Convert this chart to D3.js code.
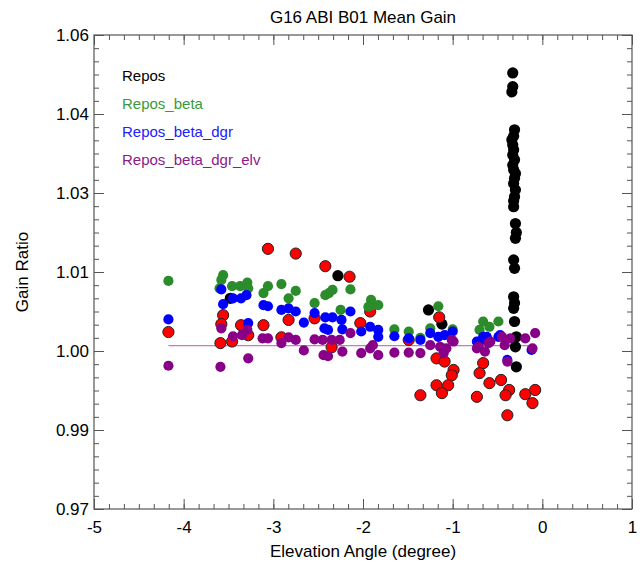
<!DOCTYPE html>
<html>
<head>
<meta charset="utf-8">
<script src="https://cdn.jsdelivr.net/npm/d3@7"></script>
<style>
  body { margin: 0; background: #fff; }
  svg { display: block; }
  text { font-family: "Liberation Sans", Arial, Helvetica, sans-serif; }
</style>
</head>
<body>
<svg id="chart" width="644" height="566"></svg>
<script>
// ---------------- DATA ----------------
const titleText = "G16 ABI B01 Mean Gain";
const xLabel = "Elevation Angle (degree)";
const yLabel = "Gain Ratio";

const xTicks = [-5, -4, -3, -2, -1, 0, 1];
const xTickLabels = ["-5", "-4", "-3", "-2", "-1", "0", "1"];
const yTicks = [0.97, 0.985, 1.0, 1.015, 1.03, 1.045, 1.06];
const yTickLabels = ["0.97", "0.99", "1.00", "1.01", "1.03", "1.04", "1.06"];

const legendNames = ["Repos", "Repos_beta", "Repos_beta_dgr", "Repos_beta_dgr_elv"];

// Repos (black)
const repos = [
  [-3.48, 1.0100], [-2.28, 1.0143], [-1.27, 1.0078], [-1.12, 1.0051],
  [-0.33, 1.0528], [-0.33, 1.0502], [-0.34, 1.0492], [-0.31, 1.0420], [-0.32, 1.0408],
  [-0.34, 1.0401], [-0.33, 1.0391], [-0.32, 1.0382], [-0.33, 1.0372], [-0.31, 1.0363],
  [-0.33, 1.0353], [-0.32, 1.0344], [-0.30, 1.0337], [-0.31, 1.0328], [-0.32, 1.0318],
  [-0.30, 1.0306], [-0.31, 1.0293], [-0.32, 1.0285], [-0.32, 1.0274], [-0.30, 1.0242],
  [-0.29, 1.0225], [-0.30, 1.0214], [-0.32, 1.0173], [-0.31, 1.0157], [-0.32, 1.0103],
  [-0.31, 1.0091], [-0.32, 1.0081], [-0.31, 1.0056], [-0.29, 1.0027], [-0.30, 1.0008],
  [-0.29, 0.9970]
];

// unlabeled red series
const reposRed = [
  [-4.17, 1.0036], [-3.56, 1.0068], [-3.58, 1.0051], [-3.59, 1.0015], [-3.46, 1.0018],
  [-3.36, 1.0049], [-3.28, 1.0030], [-3.06, 1.0194], [-3.11, 1.0049], [-2.83, 1.0059],
  [-2.91, 1.0026], [-2.75, 1.0185], [-2.54, 1.0062], [-2.42, 1.0161], [-2.35, 1.0007],
  [-2.15, 1.0141], [-2.03, 1.0053], [-1.92, 1.0075], [-1.49, 1.0021], [-1.36, 0.9916],
  [-1.15, 1.0064], [-1.18, 0.9986], [-1.09, 0.9980], [-0.99, 0.9964], [-1.01, 0.9954],
  [-1.05, 0.9935], [-1.18, 0.9935], [-1.12, 0.9920], [-0.66, 0.9977], [-0.70, 0.9958],
  [-0.59, 0.9939], [-0.73, 0.9913], [-0.46, 0.9945], [-0.37, 0.9926], [-0.41, 0.9916],
  [-0.19, 0.9918], [-0.08, 0.9926], [-0.11, 0.9901], [-0.39, 0.9878]
];

// Repos_beta (green)
const reposBeta = [
  [-4.17, 1.0133], [-3.56, 1.0144], [-3.58, 1.0135], [-3.60, 1.0119], [-3.46, 1.0123],
  [-3.37, 1.0123], [-3.29, 1.0130], [-3.28, 1.0119], [-3.11, 1.0110], [-3.06, 1.0123],
  [-2.91, 1.0127], [-2.83, 1.0100], [-2.75, 1.0114], [-2.54, 1.0091], [-2.42, 1.0106],
  [-2.38, 1.0110], [-2.34, 1.0116], [-2.25, 1.0078], [-2.14, 1.0117], [-1.91, 1.0097],
  [-1.89, 1.0087], [-1.83, 1.0087], [-1.94, 1.0084], [-1.65, 1.0041], [-1.49, 1.0037],
  [-1.36, 1.0025], [-1.16, 1.0085], [-1.25, 1.0043], [-1.00, 1.0041], [-0.66, 1.0056],
  [-0.59, 1.0046], [-0.70, 1.0040], [-0.49, 1.0056]
];

// Repos_beta_dgr (blue)
const reposBetaDgr = [
  [-4.17, 1.0060], [-3.58, 1.0117], [-3.56, 1.0089], [-3.45, 1.0100], [-3.36, 1.0100],
  [-3.30, 1.0106], [-3.28, 1.0053], [-3.11, 1.0087], [-3.06, 1.0085], [-2.91, 1.0078],
  [-2.83, 1.0081], [-2.75, 1.0075], [-2.66, 1.0054], [-2.54, 1.0072], [-2.42, 1.0064],
  [-2.34, 1.0064], [-2.24, 1.0059], [-2.43, 1.0043], [-2.39, 1.0040], [-2.14, 1.0075],
  [-2.23, 1.0041], [-2.02, 1.0037], [-1.92, 1.0046], [-1.83, 1.0040], [-1.83, 1.0027],
  [-1.65, 1.0028], [-1.49, 1.0024], [-1.36, 1.0021], [-1.25, 1.0034], [-1.16, 1.0027],
  [-1.09, 1.0030], [-1.00, 1.0037], [-0.70, 1.0018], [-0.62, 1.0027], [-0.73, 1.0018],
  [-0.66, 1.0027], [-0.49, 1.0027], [-0.47, 1.0030], [-0.12, 1.0002], [-0.39, 0.9983]
];

// Repos_beta_dgr_elv (purple)
const reposBetaDgrElv = [
  [-4.17, 0.9972], [-3.58, 1.0043], [-3.59, 0.9970], [-3.45, 1.0028], [-3.35, 1.0030],
  [-3.29, 1.0040], [-3.28, 0.9986], [-3.12, 1.0024], [-3.06, 1.0024], [-2.91, 1.0015],
  [-2.83, 1.0026], [-2.75, 1.0021], [-2.66, 1.0001], [-2.54, 1.0022], [-2.45, 1.0021],
  [-2.35, 1.0021], [-2.26, 1.0021], [-2.44, 0.9992], [-2.39, 0.9990], [-2.23, 0.9999],
  [-2.14, 1.0034], [-2.02, 0.9996], [-1.92, 1.0005], [-1.89, 1.0011], [-1.83, 0.9992],
  [-1.65, 0.9997], [-1.49, 0.9997], [-1.36, 0.9996], [-1.25, 1.0011], [-1.14, 1.0008],
  [-1.07, 1.0005], [-1.01, 1.0021], [-1.10, 0.9996], [-0.99, 1.0018], [-0.73, 1.0005],
  [-0.64, 0.9999], [-0.58, 1.0018], [-0.71, 1.0008], [-0.60, 1.0015], [-0.45, 1.0027],
  [-0.36, 1.0024], [-0.42, 1.0011], [-0.19, 1.0024], [-0.08, 1.0034], [-0.11, 1.0005],
  [-0.39, 0.9980]
];

// mean line of Repos_beta_dgr_elv
const meanLineX = [-4.17, -0.08];
const meanLineY = 1.0010;

// ---------------- DRAW ----------------
const svg = d3.select("#chart");
const L = 94, R = 632, T = 35, B = 509;
const x = d3.scaleLinear().domain([-5, 1]).range([L, R]);
const y = d3.scaleLinear().domain([0.97, 1.06]).range([B, T]);

const axisColor = "#555";
const minorX = d3.range(0, 37).map(i => -5 + i / 6);
const minorY = d3.range(0, 37).map(i => 0.97 + i * 0.0025);

function styleAxis(g) {
  g.select(".domain").remove();
  g.selectAll(".tick line").attr("stroke", axisColor).attr("stroke-width", 1);
  g.selectAll(".tick text").attr("fill", "#000").style("font-size", "17px")
    .style("font-family", '"Liberation Sans", Arial, Helvetica, sans-serif');
}

// minor ticks
svg.append("g").attr("transform", `translate(0,${B})`)
  .call(d3.axisBottom(x).tickValues(minorX).tickSize(-5).tickFormat("")).call(styleAxis);
svg.append("g").attr("transform", `translate(0,${T})`)
  .call(d3.axisTop(x).tickValues(minorX).tickSize(-5).tickFormat("")).call(styleAxis);
svg.append("g").attr("transform", `translate(${L},0)`)
  .call(d3.axisLeft(y).tickValues(minorY).tickSize(-5).tickFormat("")).call(styleAxis);
svg.append("g").attr("transform", `translate(${R},0)`)
  .call(d3.axisRight(y).tickValues(minorY).tickSize(-5).tickFormat("")).call(styleAxis);

// major ticks
svg.append("g").attr("transform", `translate(0,${B})`)
  .call(d3.axisBottom(x).tickValues(xTicks).tickSize(-10).tickPadding(12)
    .tickFormat((d, i) => xTickLabels[i])).call(styleAxis);
svg.append("g").attr("transform", `translate(0,${T})`)
  .call(d3.axisTop(x).tickValues(xTicks).tickSize(-10).tickFormat("")).call(styleAxis);
svg.append("g").attr("transform", `translate(${L},0)`)
  .call(d3.axisLeft(y).tickValues(yTicks).tickSize(-10).tickPadding(5)
    .tickFormat((d, i) => yTickLabels[i])).call(styleAxis);
svg.append("g").attr("transform", `translate(${R},0)`)
  .call(d3.axisRight(y).tickValues(yTicks).tickSize(-10).tickFormat("")).call(styleAxis);

// frame
svg.append("rect").attr("x", L).attr("y", T).attr("width", R - L).attr("height", B - T)
  .attr("fill", "none").attr("stroke", axisColor).attr("stroke-width", 1.2);

// mean line
svg.append("line")
  .attr("x1", x(meanLineX[0])).attr("x2", x(meanLineX[1]))
  .attr("y1", y(meanLineY)).attr("y2", y(meanLineY))
  .attr("stroke", "#a860a8").attr("stroke-width", 1);

function drawPoints(data, fill, stroke, r) {
  svg.append("g").selectAll("circle").data(data).join("circle")
    .attr("cx", d => x(d[0])).attr("cy", d => y(d[1])).attr("r", r)
    .attr("fill", fill)
    .attr("stroke", stroke || "none").attr("stroke-width", stroke ? 1 : 0);
}

drawPoints(repos, "#000000", null, 5.6);
drawPoints(reposRed, "#ff0000", "#222", 5.6);
drawPoints(reposBeta, "#2a8c2a", null, 5.1);
drawPoints(reposBetaDgr, "#0000ff", null, 5.1);
drawPoints(reposBetaDgrElv, "#880088", null, 5.1);

// legend
const legendColors = ["#000000", "#3a9a3a", "#2020ff", "#8b1a8b"];
svg.append("g").selectAll("text").data(legendNames).join("text")
  .attr("x", 122).attr("y", (d, i) => 81 + i * 28)
  .attr("fill", (d, i) => legendColors[i])
  .style("font-size", "15px").text(d => d);

// title & axis labels
svg.append("text").attr("x", (L + R) / 2).attr("y", 23).attr("text-anchor", "middle")
  .style("font-size", "17px").text(titleText);
svg.append("text").attr("x", (L + R) / 2).attr("y", 557).attr("text-anchor", "middle")
  .style("font-size", "17px").text(xLabel);
svg.append("text").attr("transform", `translate(28,${(T + B) / 2}) rotate(-90)`)
  .attr("text-anchor", "middle").style("font-size", "17px").text(yLabel);
</script>
</body>
</html>
